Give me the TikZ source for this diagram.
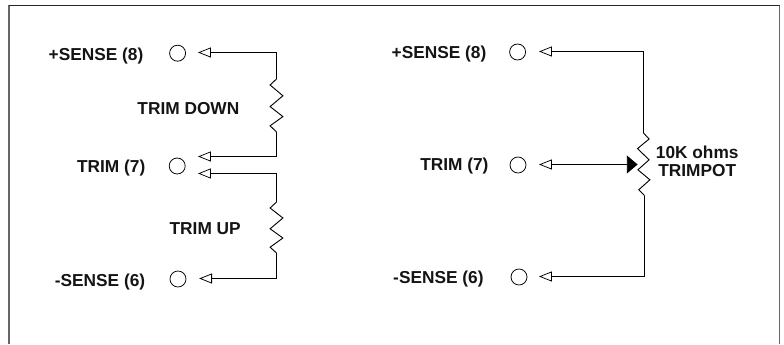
\documentclass[tikz,border=0pt]{standalone}
\usepackage{xcolor}
\usepackage{fontspec}
\setmainfont{Liberation Sans}
\usetikzlibrary{arrows.meta}

\begin{document}
\begin{tikzpicture}[
    pin/.style={draw, circle, minimum size=0.4cm, inner sep=0pt, line width=0.55pt},
    lbl/.style={font=\bfseries\fontsize{12.3}{12.8}\selectfont, inner sep=0pt, text=black!92, align=center},
    wire/.style={line width=0.65pt},
    sense/.style={wire, -{Triangle[open, length=0.32cm, width=0.25cm, line width=0.55pt]}},
    wiper/.style={wire, {Triangle[open, length=0.32cm, width=0.25cm, line width=0.55pt]}-{Triangle[length=0.27cm, width=0.45cm]}},
]
\useasboundingbox (0,0) rectangle (19.6,8.6);

% === Frame, open at the bottom ===
\draw[gray!80!black, line width=1pt] (0.225,0) -- (0.225,8.475);
\draw[gray!80!black, line width=1pt] (19.49,8.475) -- (19.49,0);
\draw[black!85, line width=0.7pt] (0.225,8.475) -- (19.49,8.475);

% === Left: fixed resistors ===
\node[lbl] (lsp) at (2.4, 7.2) {+SENSE (8)};
\node[lbl] (ltr) at (2.78, 4.395) {TRIM (7)};
\node[lbl] (lsm) at (2.5, 1.545) {-SENSE (6)};
\node[lbl] (down) at (4.71, 5.89) {TRIM DOWN};
\node[lbl] (up) at (5.13, 2.88) {TRIM UP};

\node[pin] (pa) at (4.44, 7.27) {};
\node[pin] (pb) at (4.43, 4.45) {};
\node[pin] (pc) at (4.45, 1.625) {};

\coordinate (tipa) at (4.95, 7.2875);
\coordinate (tipb) at (4.95, 4.6875);
\coordinate (tipc) at (4.95, 4.2625);
\coordinate (tipd) at (4.98, 1.6375);

\coordinate (ratop) at (6.9125, 6.625);
\coordinate (rabot) at (6.9125, 5.3);
\coordinate (rbtop) at (6.9125, 3.55);
\coordinate (rbbot) at (6.9125, 2.275);

\draw[sense] (ratop) |- (tipa);
\draw[sense] (rabot) |- (tipb);
\draw[sense] (rbtop) |- (tipc);
\draw[sense] (rbbot) |- (tipd);

\draw[wire] (ratop) -- ++(-0.16,-0.15) -- ++(0.32,-0.27) -- ++(-0.32,-0.27)
    -- ++(0.32,-0.25) -- ++(-0.32,-0.23) -- (rabot);
\draw[wire] (rbtop) -- ++(-0.16,-0.15) -- ++(0.32,-0.25) -- ++(-0.32,-0.27)
    -- ++(0.32,-0.23) -- ++(-0.32,-0.23) -- (rbbot);

% === Right: trimpot ===
\node[lbl] (rsp) at (10.975, 7.25) {+SENSE (8)};
\node[lbl] (rtr) at (11.36, 4.445) {TRIM (7)};
\node[lbl] (rsm) at (10.96, 1.625) {-SENSE (6)};
\node[lbl] (pot) at (17.43, 4.57) {10K ohms\\TRIMPOT};

\node[pin] (pd) at (12.94, 7.3) {};
\node[pin] (pe) at (12.95, 4.475) {};
\node[pin] (pf) at (12.975, 1.675) {};

\coordinate (tipe) at (13.475, 7.3125);
\coordinate (tipf) at (13.475, 4.4875);
\coordinate (tipg) at (13.475, 1.6875);
\coordinate (rctop) at (16.0875, 5.275);
\coordinate (rcbot) at (16.1125, 3.71);
\coordinate (rcmid) at (15.94, 4.4875);

\draw[sense] (rctop) |- (tipe);
\draw[sense] (rcbot) |- (tipg);
\draw[wiper] (tipf) -- (rcmid);

\draw[wire] (rctop) -- ++(0.14,-0.15) -- ++(-0.29,-0.24) -- ++(0.29,-0.28)
    -- ++(-0.28,-0.25) -- ++(0.3,-0.25) -- ++(-0.28,-0.25) -- (rcbot);

\end{tikzpicture}
\end{document}
